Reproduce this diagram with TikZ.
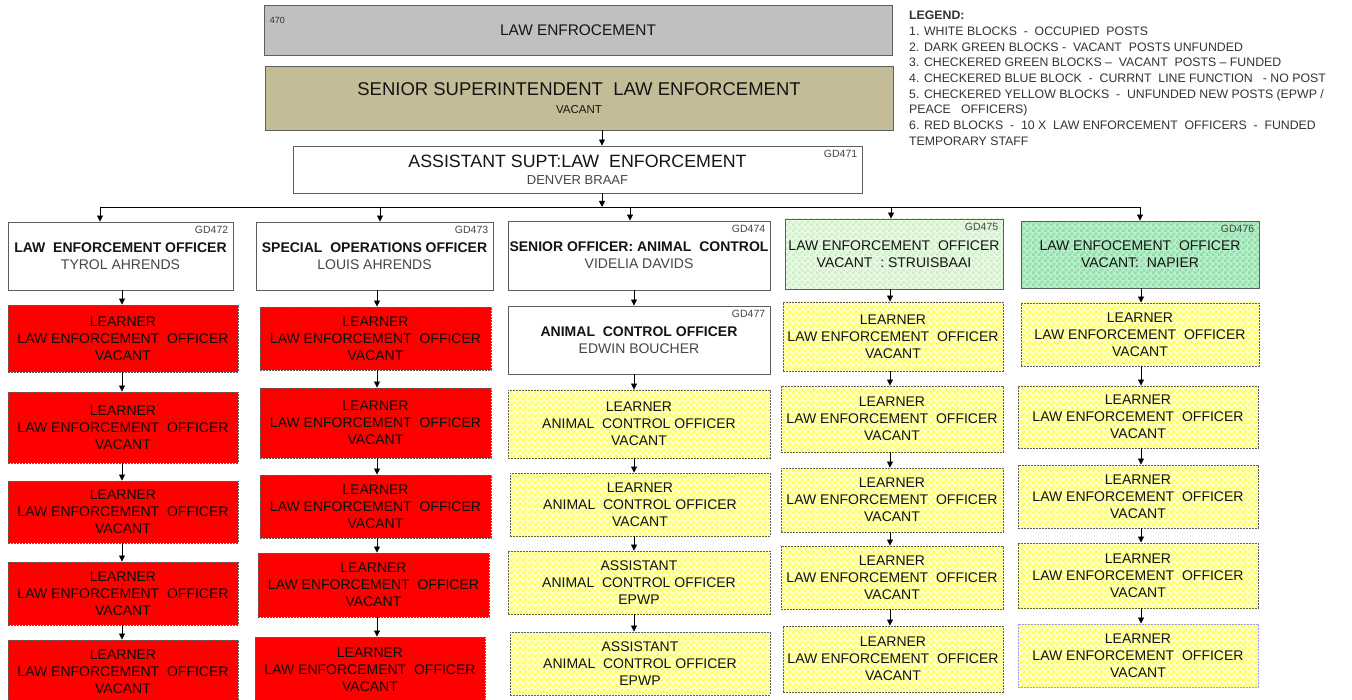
\documentclass[tikz,border=0pt]{standalone}
\usepackage{fontspec}
\setmainfont{Liberation Sans}
\usetikzlibrary{arrows.meta,patterns.meta}
\definecolor{boxline}{HTML}{5E5E5E}
\definecolor{graybox}{HTML}{C0C0C0}
\definecolor{khaki}{HTML}{C4BC96}
\definecolor{redbox}{HTML}{FF0000}
\definecolor{yelbg}{HTML}{FFFFC8}
\definecolor{yelsq}{HTML}{FFFF55}
\definecolor{lgrbg}{HTML}{EAF8E6}
\definecolor{lgrsq}{HTML}{CCF2C4}
\definecolor{dgrbg}{HTML}{B8EEC8}
\definecolor{dgrsq}{HTML}{8FDDAA}
\definecolor{nametxt}{HTML}{454545}
\tikzdeclarepattern{
  name=mycheck,
  type=uncolored,
  bounding box={(0pt,0pt) and (6pt,6pt)},
  tile size={(6pt,6pt)},
  code={\fill (0pt,0pt) rectangle (3pt,3pt); \fill (3pt,3pt) rectangle (6pt,6pt);}
}
\newcommand{\mkbox}[7]{\node[#2, minimum width={#5-#3}, minimum height={#6-#4}] (#1) at ({(#3+#5)/2},{(#4+#6)/2}) {#7};}
\newcommand{\bodyf}{\fontsize{14}{17}\selectfont}
\newcommand{\LEO}{LEARNER\\LAW ENFORCEMENT\ \ OFFICER\\VACANT}
\newcommand{\ACO}{LEARNER\\ANIMAL\ \ CONTROL OFFICER\\VACANT}
\newcommand{\ASO}{ASSISTANT\\ANIMAL\ \ CONTROL OFFICER\\EPWP}
\tikzset{
  box/.style={draw=boxline, line width=0.9pt, inner sep=0pt, align=center, anchor=center, font=\bodyf, text=black!92},
  occ/.style={box, fill=white},
  redb/.style={box, fill=redbox, dash pattern=on 2pt off 1pt, text=black!95},
  yelb/.style={box, dash pattern=on 2pt off 1pt, preaction={fill=yelbg}, pattern=mycheck, pattern color=yelsq},
  lgrb/.style={box, preaction={fill=lgrbg}, pattern=mycheck, pattern color=lgrsq},
  dgrb/.style={box, preaction={fill=dgrbg}, pattern=mycheck, pattern color=dgrsq},
  gd/.style={inner sep=0pt, anchor=north east, xshift=-5pt, yshift=-4pt, font=\fontsize{10.5}{12}\selectfont, text=nametxt},
  arr/.style={draw=black, line width=0.8pt, -{Triangle[length=6pt,width=6pt]}},
  conn/.style={draw=black, line width=0.8pt},
}
\begin{document}
\begin{tikzpicture}[x=1pt,y=-1pt]
\useasboundingbox[fill=white] (0,0) rectangle (1352,700);
% column x positions for connectors
\coordinate (xa) at (602,0);
\coordinate (bus) at (0,207);
\coordinate (k1) at (100,0);
\coordinate (k2) at (380,0);
\coordinate (k3) at (630,0);
\coordinate (k4) at (891,0);
\coordinate (k5) at (1140,0);
\coordinate (v1) at (122,0);
\coordinate (v2) at (377,0);
\coordinate (v3) at (634,0);
\coordinate (v4) at (890,0);
\coordinate (v5) at (1141,0);
% top boxes
\mkbox{t470}{box, fill=graybox, font=\fontsize{15.4}{18}\selectfont, label={[gd, anchor=north west, xshift=11pt, yshift=-8pt, text=black!80, font=\fontsize{9}{10}\selectfont]north west:470}}{264}{5}{892}{55}{LAW ENFROCEMENT}
\mkbox{sen}{box, fill=khaki}{265}{66}{893}{130}{{\fontsize{18.5}{22}\selectfont SENIOR SUPERINTENDENT\ \ LAW ENFORCEMENT}\\[1pt]{\fontsize{11.5}{14}\selectfont VACANT}}
\mkbox{asst}{occ, label={[gd]north east:GD471}}{293}{146}{862}{193}{{\fontsize{17.8}{20}\selectfont ASSISTANT SUPT:LAW\ \ ENFORCEMENT}\\{\fontsize{13}{15}\selectfont\color{nametxt} DENVER BRAAF}}
% row 1
\mkbox{c1}{occ, label={[gd]north east:GD472}}{8}{222}{233}{290}{\textbf{LAW\ \ ENFORCEMENT OFFICER}\\{\color{nametxt}TYROL AHRENDS}}
\mkbox{c2}{occ, label={[gd]north east:GD473}}{256}{222}{493}{290}{\textbf{SPECIAL\ \ OPERATIONS OFFICER}\\{\color{nametxt}LOUIS AHRENDS}}
\mkbox{c3}{occ, label={[gd]north east:GD474}}{508}{221}{770}{290}{\textbf{SENIOR OFFICER: ANIMAL\ \ CONTROL}\\{\color{nametxt}VIDELIA DAVIDS}}
\mkbox{c4}{lgrb, label={[gd]north east:GD475}}{785}{219}{1003}{289}{LAW ENFORCEMENT\ \ OFFICER\\VACANT\ \ : STRUISBAAI}
\mkbox{c5}{dgrb, label={[gd]north east:GD476}}{1021}{221}{1259}{288}{LAW ENFOCEMENT\ \ OFFICER\\VACANT:\ \ NAPIER}
% column 1
\mkbox{a1}{redb}{8}{305}{238}{372}{\LEO}
\mkbox{a2}{redb}{8}{392}{238}{463}{\LEO}
\mkbox{a3}{redb}{8}{481}{238}{543}{\LEO}
\mkbox{a4}{redb}{8}{562}{238}{625}{\LEO}
\mkbox{a5}{redb}{8}{640}{238}{704}{\LEO}
% column 2
\mkbox{b1}{redb}{260}{307}{491}{370}{\LEO}
\mkbox{b2}{redb}{260}{388}{491}{458}{\LEO}
\mkbox{b3}{redb}{260}{475}{491}{538}{\LEO}
\mkbox{b4}{redb}{258}{553}{489}{617}{\LEO}
\mkbox{b5}{redb}{255}{637}{485}{702}{\LEO}
% column 3
\mkbox{d0}{occ, label={[gd]north east:GD477}}{508}{306}{770}{374}{\textbf{ANIMAL\ \ CONTROL OFFICER}\\{\color{nametxt}EDWIN BOUCHER}}
\mkbox{d1}{yelb}{508}{390}{770}{458}{\ACO}
\mkbox{d2}{yelb}{510}{473}{770}{536}{\ACO}
\mkbox{d3}{yelb}{508}{551}{770}{614}{\ASO}
\mkbox{d4}{yelb}{510}{632}{770}{695}{\ASO}
% column 4
\mkbox{e1}{yelb}{783}{302}{1003}{371}{\LEO}
\mkbox{e2}{yelb}{781}{386}{1003}{452}{\LEO}
\mkbox{e3}{yelb}{781}{468}{1003}{532}{\LEO}
\mkbox{e4}{yelb}{781}{546}{1003}{609}{\LEO}
\mkbox{e5}{yelb}{783}{626}{1003}{692}{\LEO}
% column 5
\mkbox{f1}{yelb}{1021}{303}{1259}{366}{\LEO}
\mkbox{f2}{yelb}{1018}{386}{1258}{448}{\LEO}
\mkbox{f3}{yelb}{1018}{465}{1258}{528}{\LEO}
\mkbox{f4}{yelb}{1018}{543}{1258}{608}{\LEO}
\mkbox{f5}{yelb, draw=blue!40}{1018}{624}{1258}{687}{\LEO}
% connectors
\draw[arr] (sen.south -| xa) -- (asst.north -| xa);
\draw[arr] (asst.south -| xa) -- (bus -| xa);
\draw[conn] (bus -| k1) -- (bus -| k5);
\draw[arr] (bus -| k1) -- (c1.north -| k1);
\draw[arr] (bus -| k2) -- (c2.north -| k2);
\draw[arr] (bus -| k3) -- (c3.north -| k3);
\draw[arr] (bus -| k4) -- (c4.north -| k4);
\draw[arr] (bus -| k5) -- (c5.north -| k5);
\draw[arr] (c1.south -| v1) -- (a1.north -| v1);
\draw[arr] (a1.south -| v1) -- (a2.north -| v1);
\draw[arr] (a2.south -| v1) -- (a3.north -| v1);
\draw[arr] (a3.south -| v1) -- (a4.north -| v1);
\draw[arr] (a4.south -| v1) -- (a5.north -| v1);
\draw[arr] (c2.south -| v2) -- (b1.north -| v2);
\draw[arr] (b1.south -| v2) -- (b2.north -| v2);
\draw[arr] (b2.south -| v2) -- (b3.north -| v2);
\draw[arr] (b3.south -| v2) -- (b4.north -| v2);
\draw[arr] (b4.south -| v2) -- (b5.north -| v2);
\draw[arr] (c3.south -| v3) -- (d0.north -| v3);
\draw[arr] (d0.south -| v3) -- (d1.north -| v3);
\draw[arr] (d1.south -| v3) -- (d2.north -| v3);
\draw[arr] (d2.south -| v3) -- (d3.north -| v3);
\draw[arr] (d3.south -| v3) -- (d4.north -| v3);
\draw[arr] (c4.south -| v4) -- (e1.north -| v4);
\draw[arr] (e1.south -| v4) -- (e2.north -| v4);
\draw[arr] (e2.south -| v4) -- (e3.north -| v4);
\draw[arr] (e3.south -| v4) -- (e4.north -| v4);
\draw[arr] (e4.south -| v4) -- (e5.north -| v4);
\draw[arr] (c5.south -| v5) -- (f1.north -| v5);
\draw[arr] (f1.south -| v5) -- (f2.north -| v5);
\draw[arr] (f2.south -| v5) -- (f3.north -| v5);
\draw[arr] (f3.south -| v5) -- (f4.north -| v5);
\draw[arr] (f4.south -| v5) -- (f5.north -| v5);
% legend
\node[anchor=north west, inner sep=0pt, align=left, text=black!80, font=\fontsize{12.3}{15.7}\selectfont] (legend) at (909,11) {%
\textbf{LEGEND:}\\
1. WHITE BLOCKS\ \ -\ \ OCCUPIED\ \ POSTS\\
2. DARK GREEN BLOCKS -\ \ VACANT\ \ POSTS UNFUNDED\\
3. CHECKERED GREEN BLOCKS --\ \ VACANT\ \ POSTS -- FUNDED\\
4. CHECKERED BLUE BLOCK\ \ -\ \ CURRNT\ \ LINE FUNCTION\ \ \ - NO POST\\
5. CHECKERED YELLOW BLOCKS\ \ -\ \ UNFUNDED NEW POSTS (EPWP /\\
PEACE\ \ \ OFFICERS)\\
6. RED BLOCKS\ \ -\ \ 10 X\ \ LAW ENFORCEMENT\ \ OFFICERS\ \ -\ \ FUNDED\\
TEMPORARY STAFF};
\end{tikzpicture}
\end{document}
